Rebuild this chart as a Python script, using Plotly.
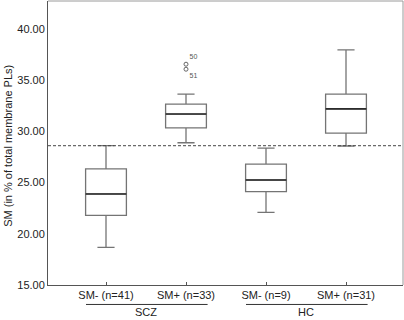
import plotly.graph_objects as go

# ---- data ----
categories = ["SM- (n=41)", "SM+ (n=33)", "SM- (n=9)", "SM+ (n=31)"]
groups = ["SCZ", "SCZ", "HC", "HC"]
lower_whisker = [18.68, 28.89, 22.10, 28.57]
q1_vals = [21.80, 30.35, 24.11, 29.83]
median_vals = [23.89, 31.69, 25.25, 32.20]
q3_vals = [26.33, 32.66, 26.81, 33.64]
upper_whisker = [28.60, 33.64, 28.37, 37.95]
outlier_cat = [1, 1]
outlier_vals = [36.56, 36.07]
outlier_labels = ["50", "51"]
cutoff = 28.6
y_ticks = [15, 20, 25, 30, 35, 40]

FONT = "Liberation Sans, Arial, sans-serif"
BOX_W = 0.51
pos = list(range(len(categories)))

fig = go.Figure()
fig.add_trace(go.Box(
    x=pos, q1=q1_vals, median=median_vals, q3=q3_vals,
    lowerfence=lower_whisker, upperfence=upper_whisker,
    width=BOX_W, whiskerwidth=0.42,
    fillcolor="white", line=dict(color="#747474", width=1.3),
    boxpoints=False, showlegend=False, hoverinfo="skip",
))

# darker median lines
mx, my = [], []
for i, m in zip(pos, median_vals):
    mx += [i - BOX_W / 2, i + BOX_W / 2, None]
    my += [m, m, None]
fig.add_trace(go.Scatter(x=mx, y=my, mode="lines",
                         line=dict(color="#2b2b2b", width=1.6),
                         showlegend=False, hoverinfo="skip"))

# outliers
fig.add_trace(go.Scatter(
    x=outlier_cat, y=outlier_vals, mode="markers+text",
    marker=dict(symbol="circle-open", size=4, color="#666", line=dict(width=1)),
    text=outlier_labels, textposition=["top right", "bottom right"],
    textfont=dict(family=FONT, size=7, color="#555"),
    showlegend=False, hoverinfo="skip", cliponaxis=False,
))

# reference dashed line
fig.add_shape(type="line", xref="paper", x0=0, x1=1, y0=cutoff, y1=cutoff,
              line=dict(color="#444", width=1, dash="3px,2px"))

# top/right lighter frame
fig.add_shape(type="line", xref="paper", yref="paper", x0=0, x1=1, y0=1, y1=1,
              line=dict(color="#9a9a9a", width=1))
fig.add_shape(type="line", xref="paper", yref="paper", x0=1, x1=1, y0=0, y1=1,
              line=dict(color="#9a9a9a", width=1))

# group labels under the axis
uniq = []
for g in groups:
    if g not in uniq:
        uniq.append(g)
for g in uniq:
    idx = [i for i, gg in zip(pos, groups) if gg == g]
    x0, x1 = min(idx) - 0.25, max(idx) + 0.27
    fig.add_shape(type="line", xref="x", yref="paper", x0=x0, x1=x1,
                  y0=-0.0685, y1=-0.0685, line=dict(color="#333", width=1))
    fig.add_annotation(x=(min(idx) + max(idx)) / 2, y=-0.0956, xref="x", yref="paper",
                       text=g, showarrow=False, yanchor="middle",
                       font=dict(family=FONT, size=11, color="#222"))

# y-axis title
fig.add_annotation(x=-0.1127, y=0.49, xref="paper", yref="paper",
                   text="SM (in % of total membrane PLs)", textangle=-90,
                   showarrow=False, xanchor="center", yanchor="middle",
                   font=dict(family=FONT, size=11, color="#222"))

fig.update_layout(
    template="none",
    width=404, height=320,
    margin=dict(l=48, r=1, t=1, b=35, autoexpand=False),
    paper_bgcolor="white", plot_bgcolor="white",
    font=dict(family=FONT, size=11, color="#222"),
    xaxis=dict(range=[-0.725, 3.7125], tickvals=pos, ticktext=categories,
               automargin=False,
               showgrid=False, zeroline=False, showline=True,
               linecolor="#555", linewidth=1, ticks="inside", ticklen=3,
               tickcolor="#555", tickfont=dict(size=11)),
    yaxis=dict(range=[15, 42.73], tickvals=y_ticks,
               ticktext=[f"{v:.2f}" for v in y_ticks], automargin=False,
               showgrid=False, zeroline=False, showline=True,
               linecolor="#555", linewidth=1, ticks="", tickfont=dict(size=11)),
)

fig.write_html("out.html",
               config={"displayModeBar": False, "staticPlot": True},
               post_script="document.body.style.margin='0';"
                           "document.body.style.overflow='hidden';")
